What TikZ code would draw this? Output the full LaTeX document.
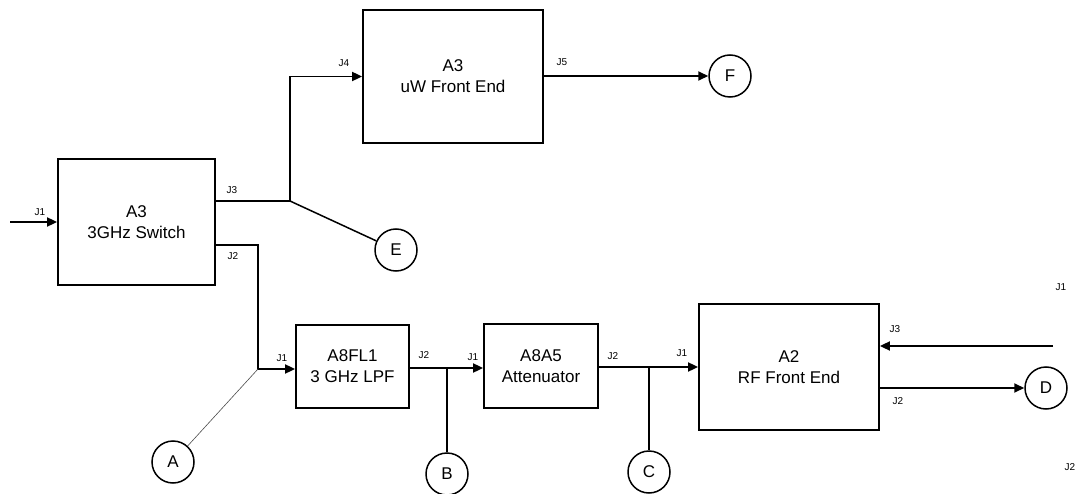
\documentclass[tikz,border=0pt]{standalone}
\usepackage{fontspec}
\setmainfont{Liberation Sans}
\usetikzlibrary{arrows.meta}
\begin{document}
\begin{tikzpicture}[x=1pt,y=-1pt,
  blk/.style={draw,line width=1.8pt,inner sep=0pt,align=center,font=\fontsize{17}{21}\selectfont},
  term/.style={draw,circle,line width=1.5pt,minimum size=42pt,inner sep=0pt,font=\fontsize{17}{20}\selectfont},
  wire/.style={line width=1.8pt},
  arr/.style={wire,-{Triangle[length=10pt,width=9pt]}},
  pin/.style={font=\fontsize{10}{11}\selectfont,inner sep=0pt}]
\useasboundingbox (0,0) rectangle (1078,494);
% blocks
\node[blk,minimum width=157pt,minimum height=126pt] (sw) at (136.5,222) {A3\\3GHz Switch};
\node[blk,minimum width=180pt,minimum height=133pt] (uw) at (453,76.5) {A3\\uW Front End};
\node[blk,minimum width=113pt,minimum height=83pt] (lpf) at (352.5,366.5) {A8FL1\\3 GHz LPF};
\node[blk,minimum width=114pt,minimum height=84pt] (att) at (541,366) {A8A5\\Attenuator};
\node[blk,minimum width=180pt,minimum height=126pt] (rf) at (789,367) {A2\\RF Front End};
% terminals
\node[term] (A) at (173,462) {A};
\node[term] (B) at (447,474) {B};
\node[term] (C) at (649,472) {C};
\node[term] (D) at (1046,388) {D};
\node[term] (E) at (396,250) {E};
\node[term] (F) at (730,76) {F};
% junction coordinates
\coordinate (in1) at (10,222);
\coordinate (j3) at (290,201);
\coordinate (j2a) at (258,245);
\coordinate (ja) at (258,369);
\coordinate (jb) at (447,368);
\coordinate (jc) at (649,367);
\coordinate (rfin) at (1053,346);
% connectors
\draw[arr] (in1) -- (sw.west |- in1);
\draw[arr] (sw.east |- j3) -- (j3) |- (uw.west);
\draw[line width=1.5pt] (j3) -- (E);
\draw[arr] (uw.east |- F) -- (F);
\draw[arr] (sw.east |- j2a) -- (j2a) -- (ja) -- (lpf.west |- ja);
\draw[line width=0.6pt,black!70] (ja) -- (A);
\draw[arr] (lpf.east |- jb) -- (att.west |- jb);
\draw[wire] (jb) -- (B);
\draw[arr] (att.east |- jc) -- (rf.west |- jc);
\draw[wire] (jc) -- (C);
\draw[arr] (rfin) -- (rf.east |- rfin);
\draw[arr] (rf.east |- D) -- (D);
% pin labels
\node[pin] (p1) at (40,212) {J1};
\node[pin] (p2) at (232,190) {J3};
\node[pin] (p3) at (233,256) {J2};
\node[pin] (p4) at (344,63) {J4};
\node[pin] (p5) at (562,62) {J5};
\node[pin] (p6) at (282,358) {J1};
\node[pin] (p7) at (424,355) {J2};
\node[pin] (p8) at (473,357) {J1};
\node[pin] (p9) at (613,356) {J2};
\node[pin] (p10) at (682,353) {J1};
\node[pin] (p11) at (895,329) {J3};
\node[pin] (p12) at (898,401) {J2};
\node[pin] (p13) at (1061,287) {J1};
\node[pin] (p14) at (1070,467) {J2};
\end{tikzpicture}
\end{document}
